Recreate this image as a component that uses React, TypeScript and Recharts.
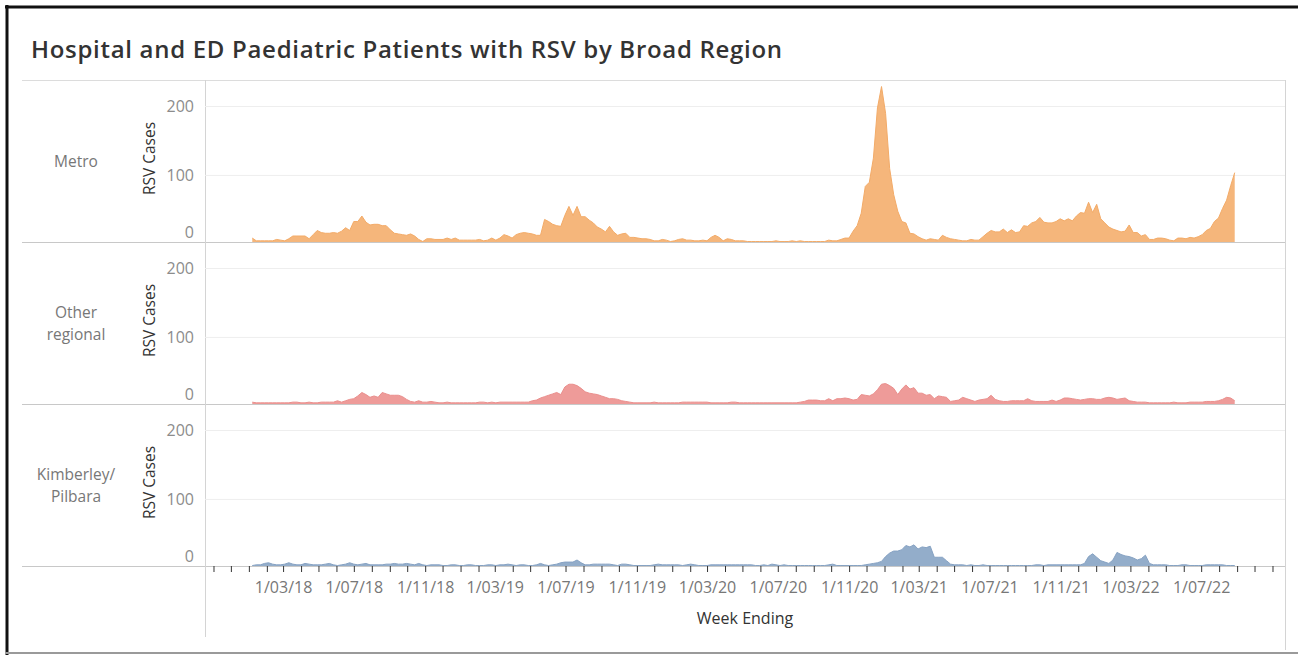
import React from 'react';
import { AreaChart, Area, XAxis, YAxis, CartesianGrid } from 'recharts';

// ---- data (weekly, week ending Saturday) ----
const FIRST_WEEK = '2018-01-06';

const METRO = [
  9, 5, 5, 5, 5, 5, 7, 6, 5, 8,
  12, 12, 12, 12, 8, 14, 20, 17, 16, 16,
  17, 16, 19, 24, 20, 33, 33, 41, 32, 28,
  29, 29, 27, 27, 21, 16, 15, 14, 13, 15,
  12, 7, 4, 8, 8, 7, 7, 7, 9, 7,
  9, 6, 6, 6, 6, 6, 7, 5, 6, 9,
  6, 9, 14, 12, 9, 14, 16, 17, 16, 15,
  13, 13, 36, 33, 29, 27, 26, 42, 55, 42,
  55, 40, 40, 35, 31, 25, 22, 18, 26, 18,
  13, 15, 16, 10, 10, 9, 8, 8, 7, 5,
  5, 7, 6, 4, 5, 7, 8, 6, 6, 5,
  5, 6, 5, 10, 13, 10, 5, 8, 7, 5,
  5, 5, 4, 4, 4, 4, 4, 4, 4, 5,
  4, 4, 4, 5, 4, 5, 4, 4, 4, 4,
  4, 4, 6, 5, 5, 7, 9, 9, 19, 27,
  45, 84, 90, 125, 198, 229, 190, 110, 72, 48,
  33, 31, 16, 15, 11, 8, 6, 8, 7, 6,
  13, 10, 8, 7, 6, 5, 5, 7, 6, 6,
  11, 16, 20, 18, 18, 22, 17, 21, 17, 18,
  27, 26, 31, 33, 39, 32, 31, 31, 33, 37,
  34, 37, 34, 41, 46, 45, 61, 46, 58, 37,
  31, 25, 22, 20, 18, 19, 28, 17, 17, 12,
  14, 7, 7, 9, 9, 8, 6, 5, 9, 9,
  8, 10, 9, 11, 14, 20, 23, 33, 38, 52,
  64, 85, 104,
];

const OTHER_REGIONAL = [
  6, 5, 5, 5, 5, 5, 5, 5, 5, 5,
  6, 6, 5, 5, 6, 5, 5, 6, 6, 6,
  6, 8, 6, 8, 10, 11, 15, 20, 17, 13,
  15, 13, 20, 18, 16, 16, 16, 14, 10, 7,
  6, 8, 6, 6, 7, 6, 5, 5, 6, 5,
  5, 5, 5, 5, 5, 5, 6, 6, 5, 6,
  5, 6, 6, 6, 6, 6, 6, 6, 6, 8,
  9, 12, 14, 16, 18, 20, 17, 28, 32, 32,
  30, 26, 21, 19, 18, 17, 15, 13, 11, 11,
  10, 8, 7, 6, 5, 5, 5, 5, 5, 6,
  5, 5, 5, 5, 5, 5, 6, 6, 6, 6,
  6, 6, 6, 5, 5, 5, 5, 5, 6, 6,
  5, 5, 5, 5, 5, 5, 5, 5, 5, 5,
  5, 5, 5, 5, 5, 6, 7, 9, 9, 9,
  8, 8, 11, 8, 11, 11, 12, 11, 9, 10,
  17, 16, 15, 18, 24, 32, 33, 30, 26, 17,
  25, 31, 25, 27, 19, 19, 16, 17, 11, 15,
  14, 13, 7, 8, 9, 13, 11, 9, 7, 9,
  10, 11, 16, 10, 8, 7, 7, 8, 8, 8,
  8, 11, 8, 7, 7, 7, 7, 9, 7, 9,
  12, 12, 11, 10, 9, 10, 11, 11, 10, 10,
  12, 13, 12, 10, 11, 12, 8, 7, 6, 6,
  6, 5, 5, 5, 5, 5, 5, 6, 5, 5,
  5, 6, 6, 6, 6, 7, 7, 7, 8, 10,
  13, 12, 8,
];

const KIMBERLEY_PILBARA = [
  4, 5, 5, 7, 8, 6, 5, 5, 6, 8,
  6, 5, 5, 7, 6, 5, 5, 5, 6, 7,
  5, 4, 5, 6, 8, 6, 5, 6, 7, 5,
  5, 5, 5, 6, 6, 7, 6, 6, 7, 6,
  5, 7, 5, 4, 5, 5, 5, 4, 4, 5,
  5, 4, 4, 5, 5, 4, 4, 4, 5, 5,
  4, 5, 5, 6, 5, 4, 5, 5, 4, 4,
  5, 7, 5, 4, 5, 6, 8, 9, 9, 9,
  12, 8, 5, 5, 6, 6, 6, 6, 6, 5,
  4, 6, 6, 5, 4, 4, 4, 4, 4, 5,
  6, 5, 5, 5, 5, 5, 4, 5, 6, 5,
  4, 4, 4, 5, 5, 5, 5, 5, 5, 5,
  5, 5, 5, 5, 4, 4, 5, 4, 6, 5,
  4, 5, 4, 4, 4, 4, 4, 4, 4, 4,
  4, 4, 5, 6, 4, 4, 4, 4, 4, 4,
  4, 5, 6, 7, 8, 10, 17, 22, 25, 25,
  27, 33, 31, 34, 28, 31, 30, 32, 16, 16,
  16, 11, 6, 5, 5, 5, 4, 5, 4, 4,
  5, 4, 4, 4, 4, 4, 4, 4, 4, 4,
  4, 4, 4, 5, 5, 4, 5, 5, 5, 5,
  5, 5, 5, 5, 5, 7, 17, 21, 16, 11,
  9, 7, 12, 23, 20, 18, 17, 15, 12, 14,
  19, 7, 5, 5, 5, 5, 4, 4, 4, 5,
  5, 4, 4, 4, 4, 5, 5, 5, 5, 5,
  4, 4, 4,
];

const Y_TICKS = [0, 100, 200];
const X_TICK_LABELS = [
  '1/03/18', '1/07/18', '1/11/18', '1/03/19', '1/07/19', '1/11/19', '1/03/20',
  '1/07/20', '1/11/20', '1/03/21', '1/07/21', '1/11/21', '1/03/22', '1/07/22',
];
const FIRST_TICK_MONTH = [2017, 11];
const LAST_TICK_MONTH = [2022, 11];
const TITLE = 'Hospital and ED Paediatric Patients with RSV by Broad Region';

// ---- helpers ----
const DAY = 86400000;
const dayNum = (iso: string) => Date.parse(iso) / DAY;
const firstDay = dayNum(FIRST_WEEK);

const MONTH_TICKS: number[] = [];
for (let y = FIRST_TICK_MONTH[0], m = FIRST_TICK_MONTH[1]; y < LAST_TICK_MONTH[0] || (y === LAST_TICK_MONTH[0] && m <= LAST_TICK_MONTH[1]); ) {
  MONTH_TICKS.push(Date.UTC(y, m - 1, 1) / DAY);
  m += 1;
  if (m > 12) { m = 1; y += 1; }
}
const X_DOMAIN = [MONTH_TICKS[0] - 15.5, MONTH_TICKS[MONTH_TICKS.length - 1] + 20.7];
const Y_DOMAIN = [3.3, 238.5];

const fmtDate = (v: number) => {
  const d = new Date(Math.round(v) * DAY);
  const mm = String(d.getUTCMonth() + 1).padStart(2, '0');
  const yy = String(d.getUTCFullYear() % 100).padStart(2, '0');
  return `${d.getUTCDate()}/${mm}/${yy}`;
};
const xTickFormatter = (v: number) => {
  const s = fmtDate(v);
  return X_TICK_LABELS.includes(s) ? s : '';
};

const FONT = '"Open Sans", "Noto Sans", sans-serif';
const PANEL_H = 162;
const CHART_LEFT = 105;
const CHART_W = 1180;
const Y_AXIS_W = 100;

const YTick = (props: any) => {
  const { y, payload } = props;
  const yy = Math.min(y, PANEL_H - 10);
  return (
    <text x={Y_AXIS_W - 11} y={yy} dy="0.36em" textAnchor="end" fill="#8c8c8c" fontSize={16} fontFamily={FONT}>
      {payload.value}
    </text>
  );
};

type PanelProps = { values: number[]; fill: string; stroke: string; top: number; showX?: boolean };

function Panel({ values, fill, stroke, top, showX }: PanelProps) {
  const data = values.map((v, i) => ({ d: firstDay + 7 * i, v }));
  const AXIS_H = 62;
  return (
    <div style={{ position: 'absolute', left: CHART_LEFT, top }}>
      <AreaChart
        width={CHART_W}
        height={showX ? PANEL_H + AXIS_H : PANEL_H}
        data={data}
        margin={{ top: 0, right: 0, bottom: 0, left: 0 }}
      >
        <CartesianGrid vertical={false} horizontalValues={[100, 200]} stroke="#eeeeee" />
        <XAxis
          type="number"
          dataKey="d"
          domain={X_DOMAIN}
          allowDataOverflow
          ticks={MONTH_TICKS}
          interval={0}
          hide={!showX}
          height={AXIS_H}
          axisLine={false}
          tickLine={{ stroke: '#333' }}
          tickSize={6}
          tickMargin={10}
          tickFormatter={xTickFormatter}
          tick={{ fill: '#777', fontSize: 16, fontFamily: FONT }}
          label={{ value: 'Week Ending', position: 'insideBottom', offset: 4, fill: '#333', fontSize: 16, fontFamily: FONT }}
        />
        <YAxis
          type="number"
          domain={Y_DOMAIN}
          allowDataOverflow
          ticks={Y_TICKS}
          interval={0}
          width={Y_AXIS_W}
          axisLine={false}
          tickLine={false}
          tick={<YTick />}
        />
        <Area
          type="linear"
          dataKey="v"
          fill={fill}
          fillOpacity={1}
          stroke={stroke}
          strokeWidth={1}
          isAnimationActive={false}
          dot={false}
          activeDot={false}
        />
      </AreaChart>
    </div>
  );
}

const REGIONS = [
  { lines: ['Metro'], top: 80 },
  { lines: ['Other', 'regional'], top: 242 },
  { lines: ['Kimberley/', 'Pilbara'], top: 404 },
];

export default function App() {
  return (
    <div style={{ position: 'absolute', left: 0, top: 0, width: 1298, height: 655, background: '#fff', overflow: 'hidden' }}>
      <svg width={1298} height={655} style={{ position: 'absolute', left: 0, top: 0 }}>
        <line x1={5} y1={7} x2={1298} y2={7} stroke="#111" strokeWidth={3} />
        <line x1={7} y1={5} x2={7} y2={655} stroke="#111" strokeWidth={3} />
        <line x1={5} y1={653} x2={1298} y2={653} stroke="#9a9a9a" strokeWidth={2} />
        <text x={31} y={58} fontFamily={FONT} fontSize={24} fontWeight={600} fill="#333" textLength={751} lengthAdjust="spacing">{TITLE}</text>
        <line x1={22} y1={80.5} x2={1285} y2={80.5} stroke="#dcdcdc" />
        <line x1={22} y1={242.5} x2={1285} y2={242.5} stroke="#c8c8c8" />
        <line x1={22} y1={404.5} x2={1285} y2={404.5} stroke="#c8c8c8" />
        <line x1={22} y1={566.5} x2={1285} y2={566.5} stroke="#c8c8c8" />
        <line x1={205.5} y1={80} x2={205.5} y2={637} stroke="#d4d4d4" />
        <line x1={1285.5} y1={80} x2={1285.5} y2={650} stroke="#d4d4d4" />
        {REGIONS.map((r) => {
          const cy = r.top + 81;
          const n = r.lines.length;
          return (
            <g key={r.top}>
              {r.lines.map((ln, k) => (
                <text key={ln} x={76} y={cy + 6 + (k - (n - 1) / 2) * 21.5} textAnchor="middle" fontFamily={FONT} fontSize={15.5} fill="#777">
                  {ln}
                </text>
              ))}
              <text
                x={155}
                y={cy - 2.5}
                textAnchor="middle"
                transform={`rotate(-90 155 ${cy - 2.5})`}
                fontFamily={FONT}
                fontSize={15.5}
                fill="#333"
              >
                RSV Cases
              </text>
            </g>
          );
        })}
      </svg>
      <Panel values={METRO} fill="#f5b67b" stroke="#f3ab68" top={80} />
      <Panel values={OTHER_REGIONAL} fill="#ee9b99" stroke="#ea8f8d" top={242} />
      <Panel values={KIMBERLEY_PILBARA} fill="#93adca" stroke="#86a2c3" top={404} showX />
    </div>
  );
}
